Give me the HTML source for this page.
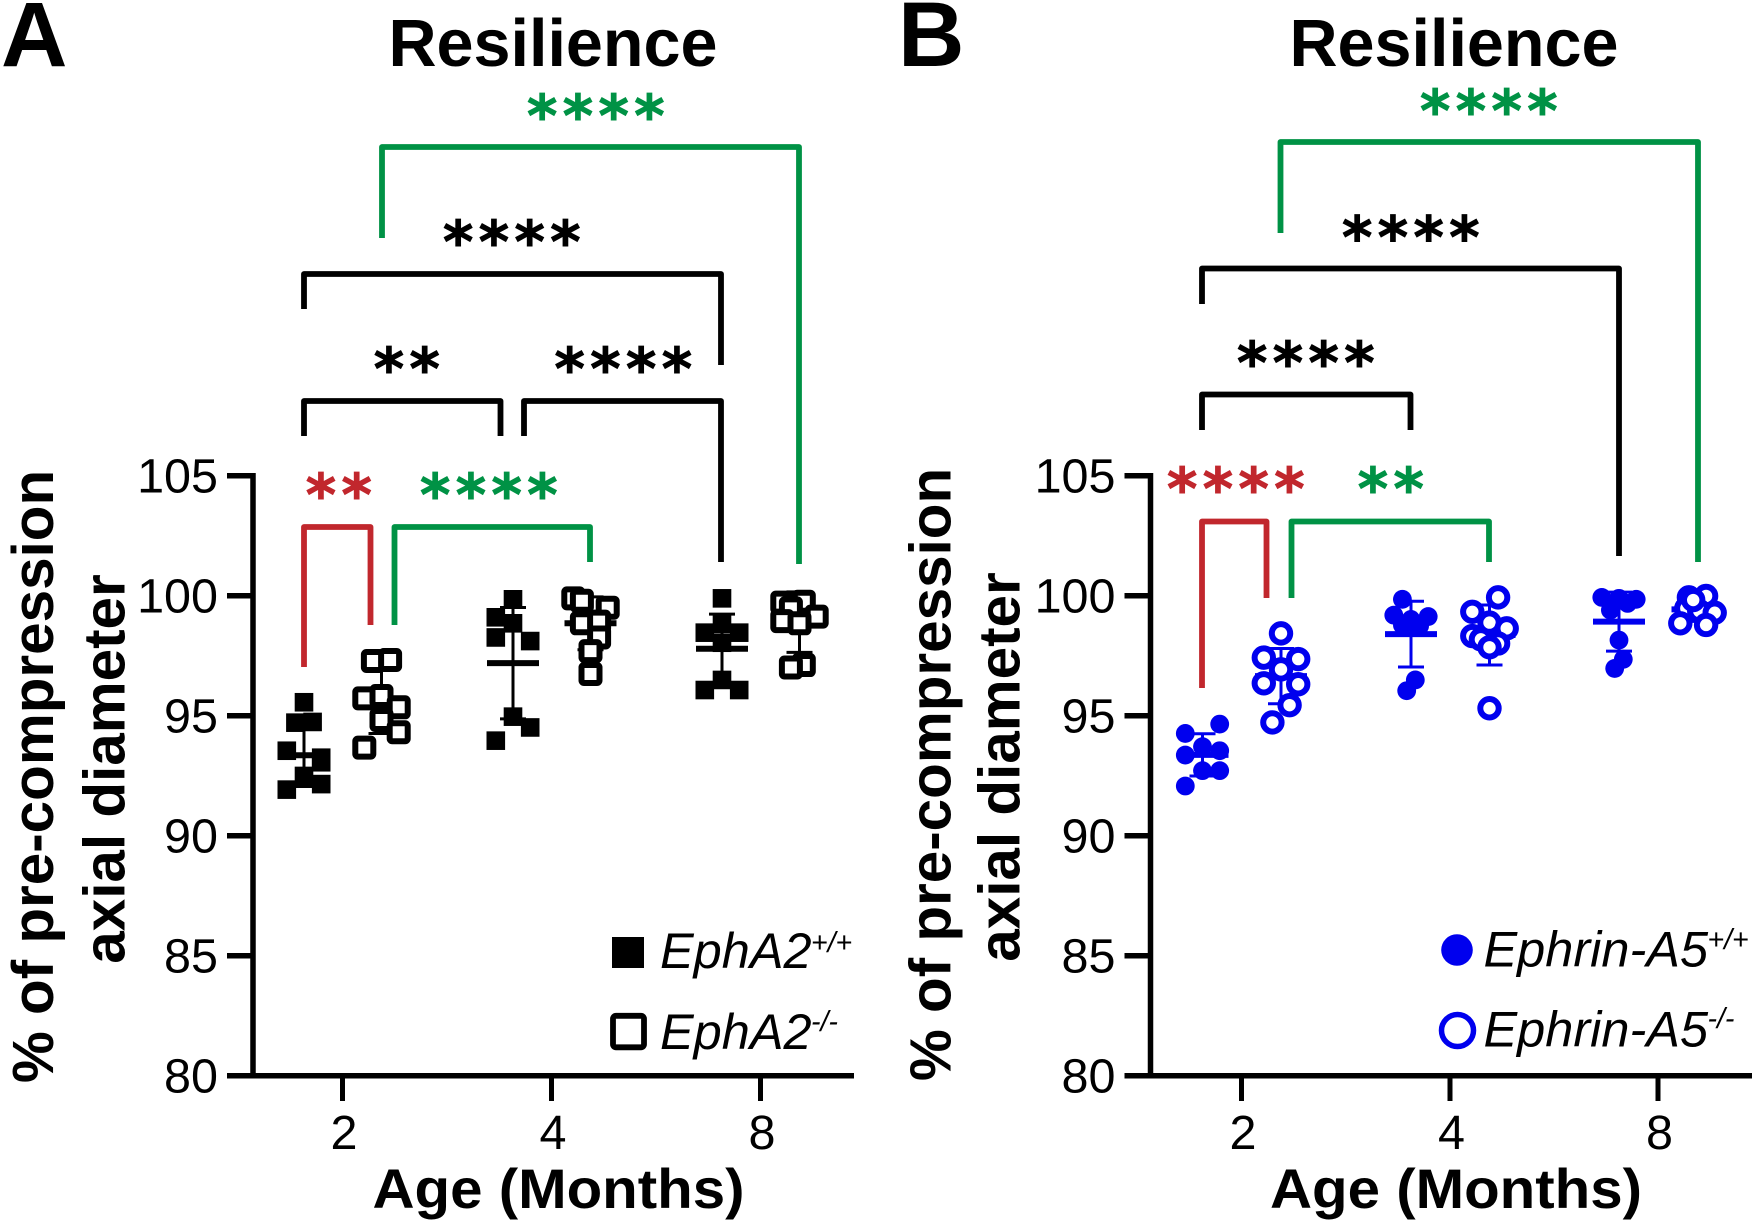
<!DOCTYPE html>
<html lang="en">
<head>
<meta charset="utf-8">
<title>Resilience</title>
<style>
html,body{margin:0;padding:0;background:#fff;width:1756px;height:1224px;overflow:hidden}
svg{display:block}
text{font-family:"Liberation Sans",Arial,sans-serif;fill:#000}
.bold{font-weight:700}
.tick{font-size:48.500px}
.title{font-size:66.500px;font-weight:700;text-anchor:middle}
.panel{font-size:92px;font-weight:700}
.xt{font-size:56px;font-weight:700;text-anchor:middle}
.yt{font-size:58.400px;font-weight:700;text-anchor:middle}
.leg{font-size:50.500px;font-style:italic}
.sup{font-size:28.500px;font-style:italic}
.stars{font-family:"DejaVu Sans",sans-serif;font-weight:700;font-size:58px;letter-spacing:5.400px;text-anchor:middle;stroke-width:.9px}
.br{fill:none;stroke-width:5.800;stroke-linejoin:round}
.k{stroke:#000}.g{stroke:#009245}.r{stroke:#c1272d}
.kt{fill:#000;stroke:#000}.gt{fill:#009245;stroke:#009245}.rt{fill:#c1272d;stroke:#c1272d}
</style>
</head>
<body>
<svg id="fig" xmlns="http://www.w3.org/2000/svg" width="1756" height="1224" viewBox="0 0 1756 1224">
<rect width="1756" height="1224" fill="#fff"/>

<g id="panelA">
<text class="panel" x="1" y="66">A</text>
<text class="title" x="553" y="66">Resilience</text>
<path class="br g" d="M382 238V147H799V564"/>
<text class="stars gt" x="598.500" y="136">****</text>
<path class="br k" d="M304 309V274H721V365"/>
<text class="stars kt" x="514.500" y="262">****</text>
<path class="br k" d="M304 436V401H500.500V436"/>
<text class="stars kt" x="409.500" y="389">**</text>
<path class="br k" d="M524 436V401H721V562"/>
<text class="stars kt" x="626" y="389">****</text>
<path class="br r" d="M304 667V527H370.500V625"/>
<text class="stars rt" x="341.500" y="515">**</text>
<path class="br g" d="M394.500 625V527H590V562"/>
<text class="stars gt" x="491.500" y="515">****</text>
<text class="yt" transform="translate(53,776.500) rotate(-90)">% of pre-compression</text>
<text class="yt" transform="translate(124.500,769) rotate(-90)">axial diameter</text>
<text class="xt" x="558.500" y="1208" textLength="372" lengthAdjust="spacingAndGlyphs">Age (Months)</text>
<rect x="612" y="937" width="32" height="31" fill="#000"/>
<text class="leg" x="660" y="968">EphA2</text>
<text class="sup" x="811" y="952">+/+</text>
<rect x="613" y="1015.800" width="31" height="31.500" rx="3" fill="#fff" stroke="#000" stroke-width="5.800"/>
<text class="leg" x="660" y="1049">EphA2</text>
<text class="sup" x="811" y="1031">-/-</text>
</g>

<g id="panelB">
<text class="panel" x="898" y="66">B</text>
<text class="title" x="1454" y="66">Resilience</text>
<path class="br g" d="M1280.500 233V142H1698V562"/>
<text class="stars gt" x="1491.500" y="131">****</text>
<path class="br k" d="M1202 304V268.500H1619V556"/>
<text class="stars kt" x="1413.500" y="257.500">****</text>
<path class="br k" d="M1202 430V394.500H1410.500V430"/>
<text class="stars kt" x="1308.500" y="383">****</text>
<path class="br r" d="M1202 688V521.500H1266.500V598"/>
<text class="stars rt" x="1238.500" y="509">****</text>
<path class="br g" d="M1291.500 598V521.500H1489V562"/>
<text class="stars gt" x="1393.500" y="509">**</text>
<text class="yt" transform="translate(950.500,774.500) rotate(-90)">% of pre-compression</text>
<text class="yt" transform="translate(1019.500,767) rotate(-90)">axial diameter</text>
<text class="xt" x="1456" y="1208" textLength="372" lengthAdjust="spacingAndGlyphs">Age (Months)</text>
<circle cx="1457" cy="950" r="15.800" fill="#0000ee"/>
<text class="leg" x="1483.500" y="966.500">Ephrin-A5</text>
<text class="sup" x="1707.500" y="949">+/+</text>
<circle cx="1457.500" cy="1030.500" r="16" fill="#fff" stroke="#0000ee" stroke-width="5.500"/>
<text class="leg" x="1483.500" y="1046.500">Ephrin-A5</text>
<text class="sup" x="1707.500" y="1028">-/-</text>
</g>
</svg>

<script>
const yTicks = [80, 85, 90, 95, 100, 105];
const ageLabels = ['2', '4', '8'];

const aWtValues = [
  [95.56, 94.71, 94.74, 93.54, 93.25, 93.06, 92.49, 92.15, 91.92],
  [99.85, 99.1, 98.85, 98.26, 98.11, 94.96, 94.51, 93.96],
  [99.89, 98.83, 98.04, 98.46, 98.46, 96.49, 96.07, 96.07]
];
const aWtSlots = [
  [0, -1, 1, -2, 2, 2, 0, 2, -2],
  [0, -2, 0, -2, 2, 0, 2, -2],
  [0, 0, 0, -2, 2, 0, -2, 2]
];
const aWtMean = [93.35, 97.19, 97.79];
const aWtSd = [1.3, 2.32, 1.44];

const aKoValues = [
  [97.28, 97.32, 95.72, 95.82, 95.35, 94.82, 94.31, 93.67],
  [99.89, 99.79, 99.5, 98.85, 98.92, 98.26, 97.69, 96.74],
  [99.71, 99.75, 99.47, 99.13, 98.94, 98.85, 97.11, 97.01]
];
const aKoSlots = [
  [-1, 1, -2, 0, 2, 0, 2, -2],
  [-2, -1, 2, -1, 1, 1, 0, 0],
  [-2, 0.5, -1, 2, -2, 0, 0.5, -1]
];
const aKoMean = [95.58, 98.85, 98.9];
const aKoSd = [1.32, 1.1, 1.26];

const bWtValues = [
  [94.65, 94.26, 93.71, 93.54, 93.36, 92.71, 92.71, 92.07],
  [99.85, 99.19, 99.13, 99.01, 98.78, 98.74, 96.49, 96.04],
  [99.93, 99.89, 99.85, 99.4, 99.68, 98.15, 97.35, 96.97]
];
const bWtSlots = [
  [2, -2, 0, 2, -2, 0, 2, -2],
  [-1, -2, 2, 0, -1, 1, 0.5, -0.5],
  [-2, 0, 2, -1, 1, 0, 0.5, -0.5]
];
const bWtMean = [93.37, 98.4, 98.92];
const bWtSd = [0.88, 1.37, 1.23];

const bKoValues = [
  [98.43, 97.42, 97.36, 96.93, 96.35, 96.31, 95.44, 94.72],
  [99.93, 99.33, 98.88, 98.64, 98.32, 98.18, 98.01, 97.85, 95.31],
  [99.93, 99.99, 99.47, 99.36, 99.29, 98.78, 98.85, 99.82]
];
const bKoSlots = [
  [0, -2, 2, 0, -2, 2, 1, -1],
  [1, -2, 0, 2, -2, -1, 1, 0, 0],
  [-1, 1, -1.3, 0.2, 2, 1, -2, -0.5]
];
const bKoMean = [96.65, 98.36, 99.43];
const bKoSd = [1.15, 1.25, 0.5];

const NS = 'http://www.w3.org/2000/svg';
const BLUE = '#0000ee';
const SLOT_PX = 8.6;

function yScale(v) {
  return 1075.7 - (v - 80) * 24;
}
function make(tag, attrs, parent, txt) {
  const el = document.createElementNS(NS, tag);
  for (const k in attrs) el.setAttribute(k, attrs[k]);
  if (txt !== undefined) el.textContent = txt;
  parent.appendChild(el);
  return el;
}
function drawAxes(parent, key, axisX, axisRight, tickXs) {
  const yAxis = make('line', {x1: axisX, x2: axisX, y1: yScale(105) - 2.7, y2: yScale(80) + 2.7, stroke: '#000', 'stroke-width': 5.5}, parent);
  
  
  const xAxis = make('line', {x1: axisX, x2: axisRight, y1: yScale(80), y2: yScale(80), stroke: '#000', 'stroke-width': 5.5}, parent);
  
  
  yTicks.forEach(function (t) {
    const y = yScale(t);
    const mark = make('line', {x1: axisX - 26, x2: axisX, y1: y, y2: y, stroke: '#000', 'stroke-width': 5.5}, parent);
    
    
    const lab = make('text', {x: axisX - 35, y: y + 17, 'text-anchor': 'end', 'class': 'tick'}, parent, String(t));
    
    
  });
  ageLabels.forEach(function (a, i) {
    const x = tickXs[i];
    const mark = make('line', {x1: x, x2: x, y1: yScale(80), y2: 1101, stroke: '#000', 'stroke-width': 5}, parent);
    
    
    const lab = make('text', {x: x + 1.5, y: 1149, 'text-anchor': 'middle', 'class': 'tick'}, parent, a);
    
    
  });
}
function drawError(parent, name, cx, mean, sd, color) {
  const top = yScale(mean + sd), bot = yScale(mean - sd), m = yScale(mean);
  const stem = make('line', {x1: cx, x2: cx, y1: top, y2: bot, stroke: color, 'stroke-width': 3}, parent);
  
  
  const capTop = make('line', {x1: cx - 13, x2: cx + 13, y1: top, y2: top, stroke: color, 'stroke-width': 3}, parent);
  
  
  const capBot = make('line', {x1: cx - 13, x2: cx + 13, y1: bot, y2: bot, stroke: color, 'stroke-width': 3}, parent);
  
  
  const meanLine = make('line', {x1: cx - 26, x2: cx + 26, y1: m, y2: m, stroke: color, 'stroke-width': 6}, parent);
  
  
}
function drawPoint(parent, name, shape, open, x, y, color) {
  let el;
  if (shape === 'square') {
    if (open) {
      el = make('rect', {x: x - 9, y: y - 9, width: 18, height: 18, rx: 2.5, fill: '#fff', stroke: color, 'stroke-width': 6}, parent);
    } else {
      el = make('rect', {x: x - 9.3, y: y - 9.3, width: 18.6, height: 18.6, fill: color}, parent);
    }
  } else if (open) {
    el = make('circle', {cx: x, cy: y, r: 9.2, fill: '#fff', stroke: color, 'stroke-width': 6}, parent);
  } else {
    el = make('circle', {cx: x, cy: y, r: 9.4, fill: color}, parent);
  }
  
  
}
function drawSeries(parent, key, tickXs, offset, values, slots, means, sds, shape, open, color) {
  const g = make('g', {}, parent);
  
  
  values.forEach(function (group, i) {
    const cx = tickXs[i] + offset;
    drawError(g, key + '-' + ageLabels[i] + 'mo', cx, means[i], sds[i], color);
  });
  values.forEach(function (group, i) {
    const cx = tickXs[i] + offset;
    group.forEach(function (v, j) {
      drawPoint(g, key + '-' + ageLabels[i] + 'mo-point', shape, open, cx + slots[i][j] * SLOT_PX, yScale(v), color);
    });
  });
}

const panelA = document.getElementById('panelA');
const panelB = document.getElementById('panelB');
const tickXsA = [342.5, 551.5, 760.5];
const tickXsB = [1241.5, 1450, 1658];

drawAxes(panelA, 'a', 253, 854, tickXsA);
drawSeries(panelA, 'epha2-wt', tickXsA, -38.5, aWtValues, aWtSlots, aWtMean, aWtSd, 'square', false, '#000');
drawSeries(panelA, 'epha2-ko', tickXsA, 39, aKoValues, aKoSlots, aKoMean, aKoSd, 'square', true, '#000');

drawAxes(panelB, 'b', 1150.5, 1752, tickXsB);
drawSeries(panelB, 'ephrin-a5-wt', tickXsB, -39, bWtValues, bWtSlots, bWtMean, bWtSd, 'circle', false, BLUE);
drawSeries(panelB, 'ephrin-a5-ko', tickXsB, 39.5, bKoValues, bKoSlots, bKoMean, bKoSd, 'circle', true, BLUE);
</script>
</body>
</html>
